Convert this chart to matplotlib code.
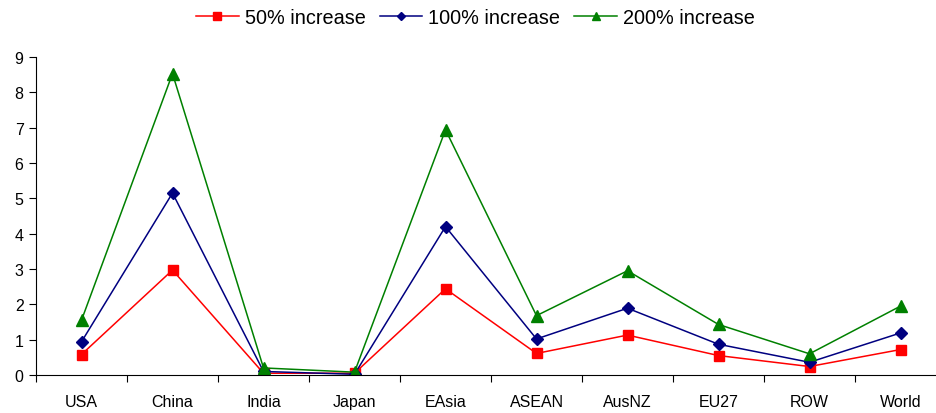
import matplotlib
matplotlib.use("Agg")
import matplotlib.pyplot as plt

categories = ["USA", "China", "India", "Japan", "EAsia", "ASEAN", "AusNZ", "EU27", "ROW", "World"]
inc50 = [0.58, 2.97, 0.05, 0.05, 2.44, 0.61, 1.13, 0.55, 0.24, 0.72]
inc100 = [0.94, 5.15, 0.10, 0.02, 4.20, 1.02, 1.89, 0.87, 0.36, 1.19]
inc200 = [1.55, 8.53, 0.20, 0.08, 6.94, 1.68, 2.95, 1.43, 0.60, 1.95]
series_labels = ["50% increase", "100% increase", "200% increase"]
yticks = list(range(0, 10))

plt.rcParams['font.family'] = ['Liberation Sans', 'DejaVu Sans']

fig = plt.figure(figsize=(9.36, 4.14), dpi=100)
ax = fig.add_axes([36/936, 38/414, 910/936, 318/414])

x = list(range(len(categories)))
l1, = ax.plot(x, inc50, color='#FF0000', marker='s', markersize=7, lw=1.1, label=series_labels[0])
l2, = ax.plot(x, inc100, color='#000080', marker='D', markersize=6, lw=1.1, label=series_labels[1])
l3, = ax.plot(x, inc200, color='#008000', marker='^', markersize=8, lw=1.1, label=series_labels[2])

ax.set_xlim(-0.5, len(categories) - 0.5)
ax.set_ylim(0, 9)
ax.set_yticks(yticks)
ax.set_xticks([i + 0.5 for i in range(-1, len(categories))], minor=False)
ax.set_xticklabels([])
ax.set_xticks(x, minor=True)
ax.set_xticklabels(categories, minor=True)
ax.tick_params(axis='x', which='minor', length=0, pad=14, labelsize=11.5)
ax.tick_params(axis='x', which='major', length=5, direction='out')
ax.tick_params(axis='y', length=5, direction='out', labelsize=11.5, pad=4)
ax.spines['top'].set_visible(False)
ax.spines['right'].set_visible(False)

fig.legend(handles=[l1, l2, l3], loc='center', bbox_to_anchor=(475.5/936, 1 - 18.5/414), ncol=3,
           frameon=False, fontsize=14.3, handlelength=2.16, columnspacing=0.7,
           handletextpad=0.3, markerscale=0.75, borderpad=0, borderaxespad=0)

fig.savefig("out.png", dpi=100)
